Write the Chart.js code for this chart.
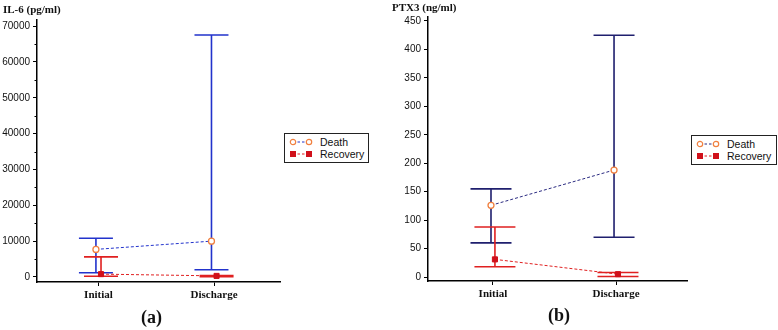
<!DOCTYPE html>
<html>
<head>
<meta charset="utf-8">
<script src="https://cdn.jsdelivr.net/npm/chart.js@4.4.1/dist/chart.umd.min.js"></script>
<style>
  body { margin: 0; background: #fff; }
  #wrap { position: relative; width: 778px; height: 330px; overflow: hidden; }
  canvas { position: absolute; top: 0; }
  .ttl { position: absolute; font: bold 11px "Liberation Serif", serif; color: #111; white-space: nowrap; }
  .cap { position: absolute; font: bold 18px "Liberation Serif", serif; color: #111; }
  .legend { position: absolute; border: 1.5px solid #222; background: #fff; box-sizing: border-box;
            font: 10.5px "Liberation Sans", Arial, sans-serif; color: #111; }
  .legend svg { position: absolute; left: 4px; width: 24px; height: 10px; }
  .legend span { position: absolute; left: 35px; line-height: 12px; white-space: nowrap; }
</style>
</head>
<body>
<div id="wrap">
  <canvas id="chartA" width="390" height="330" style="left:0"></canvas>
  <canvas id="chartB" width="388" height="330" style="left:390px"></canvas>
  <div class="ttl" style="left:3px;top:3px">IL-6 (pg/ml)</div>
  <div class="ttl" style="left:392px;top:1px">PTX3 (ng/ml)</div>
  <div class="cap" style="left:141px;top:307px">(a)</div>
  <div class="cap" style="left:548px;top:305px">(b)</div>
  <div class="legend" style="left:284px;top:133px;width:85px;height:30px">
    <svg style="top:3px" viewBox="0 0 24 10"><line x1="4" y1="5" x2="20" y2="5" stroke="#2233cc" stroke-dasharray="2.5,2"/><circle cx="4" cy="5" r="2.7" fill="#fff" stroke="#f08040" stroke-width="1.2"/><circle cx="20" cy="5" r="2.7" fill="#fff" stroke="#f08040" stroke-width="1.2"/></svg>
    <span style="top:2px">Death</span>
    <svg style="top:15px" viewBox="0 0 24 10"><line x1="4" y1="5" x2="20" y2="5" stroke="#e02020" stroke-dasharray="2.5,2"/><rect x="1" y="2" width="6" height="6" fill="#d0101a"/><rect x="17" y="2" width="6" height="6" fill="#d0101a"/></svg>
    <span style="top:14px">Recovery</span>
  </div>
  <div class="legend" style="left:691px;top:135px;width:86px;height:30px">
    <svg style="top:3px" viewBox="0 0 24 10"><line x1="4" y1="5" x2="20" y2="5" stroke="#2a2a80" stroke-dasharray="2.5,2"/><circle cx="4" cy="5" r="2.7" fill="#fff" stroke="#f08040" stroke-width="1.2"/><circle cx="20" cy="5" r="2.7" fill="#fff" stroke="#f08040" stroke-width="1.2"/></svg>
    <span style="top:2px">Death</span>
    <svg style="top:15px" viewBox="0 0 24 10"><line x1="4" y1="5" x2="20" y2="5" stroke="#e02020" stroke-dasharray="2.5,2"/><rect x="1" y="2" width="6" height="6" fill="#d0101a"/><rect x="17" y="2" width="6" height="6" fill="#d0101a"/></svg>
    <span style="top:14px">Recovery</span>
  </div>
</div>
<script>
// categories on the x axis
const categories = ["Initial", "Discharge"];

// IL-6 (pg/ml), panel (a)
const il6DeathMean = [7700, 10000];
const il6DeathLow = [1200, 2000];
const il6DeathHigh = [10800, 67500];
const il6RecoveryMean = [800, 300];
const il6RecoveryLow = [200, 100];
const il6RecoveryHigh = [5600, 400];
const il6Ticks = [0, 10000, 20000, 30000, 40000, 50000, 60000, 70000];
const il6MinorTicks = [5000, 15000, 25000, 35000, 45000, 55000, 65000];

// PTX3 (ng/ml), panel (b)
const ptx3DeathMean = [126, 188];
const ptx3DeathLow = [60, 70];
const ptx3DeathHigh = [155, 425];
const ptx3RecoveryMean = [31, 5];
const ptx3RecoveryLow = [18, 1];
const ptx3RecoveryHigh = [88, 8];
const ptx3Ticks = [0, 50, 100, 150, 200, 250, 300, 350, 400, 450];

const ORANGE = "#f08040";
const RED = "#e02020";

// draws the whiskers with caps, behind the markers
const errorBarPlugin = {
  id: "errorBars",
  beforeDatasetsDraw(chart) {
    const { ctx, scales: { x, y } } = chart;
    const capPx = chart.options.plugins.errorBars.capPx;
    ctx.save();
    chart.data.datasets.forEach((ds) => {
      ctx.strokeStyle = ds.barColor;
      ctx.lineWidth = 1.6;
      ds.data.forEach((pt, i) => {
        const px = x.getPixelForValue(pt.x);
        const yl = y.getPixelForValue(ds.errLow[i]);
        const yh = y.getPixelForValue(ds.errHigh[i]);
        ctx.beginPath();
        ctx.moveTo(px, yl); ctx.lineTo(px, yh);
        ctx.moveTo(px - capPx, yl); ctx.lineTo(px + capPx, yl);
        ctx.moveTo(px - capPx, yh); ctx.lineTo(px + capPx, yh);
        ctx.stroke();
      });
    });
    // minor ticks on the y axis
    const minor = chart.options.plugins.errorBars.minor || [];
    ctx.strokeStyle = "#000";
    ctx.lineWidth = 1;
    minor.forEach((v) => {
      const py = Math.round(y.getPixelForValue(v)) + 0.5;
      ctx.beginPath();
      ctx.moveTo(chart.chartArea.left - 2.5, py);
      ctx.lineTo(chart.chartArea.left, py);
      ctx.stroke();
    });
    ctx.restore();
  },
};

function series(label, means, low, high, lineColor, barColor, dodge, isDeath) {
  return {
    label: label,
    data: means.map((v, i) => ({ x: i + dodge, y: v })),
    errLow: low,
    errHigh: high,
    barColor: barColor,
    borderColor: lineColor,
    borderWidth: 1,
    borderDash: [3, 2],
    pointStyle: isDeath ? "circle" : "rect",
    pointRadius: isDeath ? 3 : 3.6,
    pointBackgroundColor: isDeath ? "#fff" : "#d0101a",
    pointBorderColor: isDeath ? ORANGE : "#d0101a",
    pointBorderWidth: isDeath ? 1.3 : 1,
    tension: 0,
  };
}

function makeChart(id, datasets, ticks, minor, xMin, xMax, yMin, yMax, yWidth, padding, capPx) {
  return new Chart(document.getElementById(id), {
    type: "line",
    data: { datasets: datasets },
    plugins: [errorBarPlugin],
    options: {
      responsive: false,
      animation: false,
      layout: { padding: padding },
      plugins: {
        legend: { display: false },
        tooltip: { enabled: false },
        errorBars: { capPx: capPx, minor: minor },
      },
      scales: {
        x: {
          type: "linear",
          min: xMin,
          max: xMax,
          afterBuildTicks: (s) => { s.ticks = categories.map((c, i) => ({ value: i })); },
          afterFit: (s) => { s.height = 30; s.paddingLeft = 0; s.paddingRight = 0; },
          ticks: {
            callback: (v) => categories[v],
            autoSkip: false,
            maxRotation: 0,
            padding: 3,
            color: "#111",
            font: { family: "Liberation Serif", size: 11, weight: "bold" },
          },
          grid: { drawOnChartArea: false, drawTicks: true, tickLength: 4, color: "#000" },
          border: { color: "#000", width: 1.5 },
        },
        y: {
          type: "linear",
          min: yMin,
          max: yMax,
          afterBuildTicks: (s) => { s.ticks = ticks.map((v) => ({ value: v })); },
          afterFit: (s) => { s.width = yWidth; s.paddingTop = 0; s.paddingBottom = 0; },
          ticks: {
            callback: (v) => String(v),
            padding: 3,
            color: "#111",
            font: { family: "Liberation Sans", size: 10 },
          },
          grid: { drawOnChartArea: false, drawTicks: true, tickLength: 4, color: "#000" },
          border: { color: "#000", width: 1.5 },
        },
      },
    },
  });
}

makeChart("chartA", [
  series("Death", il6DeathMean, il6DeathLow, il6DeathHigh, "#2233cc", "#2233cc", -0.022, true),
  series("Recovery", il6RecoveryMean, il6RecoveryLow, il6RecoveryHigh, RED, RED, 0.022, false),
], il6Ticks, il6MinorTicks, -0.532, 1.571, -1400, 71700, 37,
  { left: 0, top: 20, right: 110, bottom: 18 }, 17);

makeChart("chartB", [
  series("Death", ptx3DeathMean, ptx3DeathLow, ptx3DeathHigh, "#2a2a80", "#1f1f6e", -0.016, true),
  series("Recovery", ptx3RecoveryMean, ptx3RecoveryLow, ptx3RecoveryHigh, RED, RED, 0.016, false),
], ptx3Ticks, [], -0.528, 1.577, -7, 457, 38,
  { left: 0, top: 17, right: 91, bottom: 19 }, 20.5);
</script>
</body>
</html>
